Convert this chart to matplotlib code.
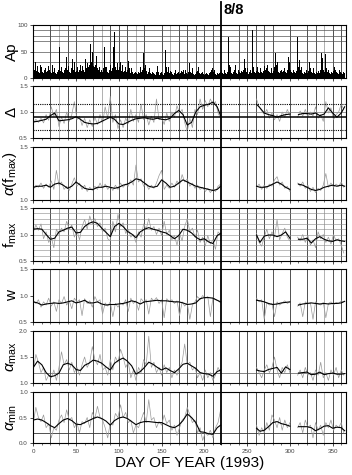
import numpy as np
import matplotlib
matplotlib.use("Agg")
import matplotlib.pyplot as plt
from matplotlib.lines import Line2D

plt.rcParams["font.family"] = ["Liberation Sans", "DejaVu Sans"]
plt.rcParams["mathtext.fontset"] = "custom"
plt.rcParams["mathtext.rm"] = "Liberation Sans"
plt.rcParams["mathtext.it"] = "Liberation Sans:italic"

########## DATA ##########
## daily Ap, day 0..364
ap = [
    12, 15, 32, 30, 14, 22, 12, 10, 25, 14, 20, 12, 10, 15, 18, 12, 10, 14, 22, 15,
    12, 10, 25, 14, 12, 18, 10, 8, 12, 15, 20, 58, 14, 20, 12, 10, 15, 12, 18, 40,
    15, 22, 12, 10, 14, 18, 36, 15, 30, 12, 10, 14, 20, 12, 15, 24, 14, 12, 22, 15,
    12, 35, 18, 28, 15, 20, 25, 65, 30, 50, 22, 38, 20, 25, 42, 18, 15, 20, 14, 12,
    15, 12, 18, 58, 20, 14, 20, 12, 10, 15, 25, 14, 12, 18, 58, 87, 20, 15, 28, 12,
    15, 20, 30, 14, 25, 12, 10, 14, 20, 12, 15, 33, 18, 12, 10, 18, 12, 8, 10, 12,
    15, 10, 8, 12, 10, 20, 12, 10, 15, 48, 18, 25, 14, 10, 8, 12, 18, 10, 8, 12,
    15, 10, 8, 6, 12, 22, 12, 8, 6, 10, 12, 8, 6, 10, 18, 53, 20, 12, 20, 10,
    14, 27, 12, 8, 6, 10, 15, 8, 6, 10, 12, 8, 10, 14, 12, 26, 15, 8, 15, 10,
    8, 12, 18, 28, 12, 10, 18, 8, 6, 10, 8, 12, 14, 20, 10, 8, 6, 10, 12, 8,
    6, 8, 10, 15, 8, 6, 10, 12, 15, 22, 18, 12, 15, 8, 6, 10, 12, 8, 10, 12,
    15, 10, 8, 12, 15, 10, 8, 12, 77, 25, 12, 20, 10, 8, 12, 15, 24, 14, 10, 8,
    15, 12, 10, 14, 20, 12, 15, 35, 18, 12, 18, 10, 8, 12, 15, 10, 90, 20, 25, 12,
    10, 14, 20, 12, 10, 15, 18, 12, 10, 14, 22, 15, 12, 18, 25, 14, 12, 10, 18, 12,
    10, 14, 20, 47, 25, 30, 14, 12, 10, 14, 15, 12, 10, 14, 18, 12, 10, 15, 39, 20,
    30, 15, 12, 10, 15, 12, 8, 10, 14, 77, 20, 34, 15, 12, 20, 10, 8, 12, 10, 15,
    12, 10, 14, 31, 18, 12, 10, 14, 18, 10, 8, 12, 10, 14, 12, 10, 15, 47, 37, 15,
    12, 20, 45, 18, 12, 15, 10, 8, 12, 12, 10, 14, 21, 15, 12, 18, 10, 8, 15, 12,
    10, 8, 8, 12, 10,
]

## days of the raw (gray) samples: three data segments
raw_days = [np.arange(0, 220, 3), np.arange(261, 301, 3), np.arange(309, 364, 3)]
## days of the running mean (black) samples
sm_days = [
    list(range(0, 216, 5)) + [219],
    [261] + list(range(265, 301, 5)),
    list(range(310, 361, 5)) + [364],
]

delta_raw = [
    0.78, 0.86, 0.80, 0.88, 0.79, 0.95, 0.84, 1.10, 0.92, 1.05,
    0.72, 0.90, 0.78, 1.00, 0.82, 0.95, 1.20, 0.85, 0.92, 0.74,
    0.88, 0.70, 0.85, 0.72, 0.90, 0.76, 0.95, 0.78, 1.10, 0.88,
    1.30, 0.80, 0.95, 0.68, 0.85, 0.70, 0.88, 0.78, 1.05, 0.82,
    0.95, 0.80, 1.15, 0.85, 0.95, 0.75, 0.92, 0.80, 1.25, 0.85,
    0.90, 0.76, 0.98, 0.82, 1.00, 0.90, 1.12, 0.98, 1.05, 0.80,
    0.62, 0.88, 0.70, 1.05, 0.95, 1.25, 1.05, 1.22, 1.10, 1.25,
    1.15, 1.20, 0.98, 0.88,
    1.25, 1.10, 1.02, 0.95, 1.05, 0.88, 0.98, 0.85, 0.95, 0.82, 1.00, 0.90, 1.05, 0.92,
    0.90, 1.02, 0.92, 1.05, 0.90, 1.00, 0.92, 1.10, 0.88, 0.95, 0.82, 1.20, 0.98, 1.08,
    0.85, 0.95, 1.00, 1.15, 1.05,
]
delta_sm = [
    0.81, 0.82, 0.84, 0.86, 0.93, 0.98, 0.83, 0.84, 0.85, 0.87,
    0.91, 0.86, 0.80, 0.78, 0.77, 0.78, 0.82, 0.86, 0.90, 0.86,
    0.77, 0.76, 0.80, 0.84, 0.87, 0.88, 0.89, 0.87, 0.86, 0.88,
    0.86, 0.85, 0.88, 0.97, 1.03, 0.95, 0.75, 0.80, 1.00, 1.10,
    1.13, 1.15, 1.19, 1.10, 0.93,
    1.15, 1.08, 0.98, 0.95, 0.93, 0.90, 0.93, 0.95, 0.96,
    0.95, 0.97, 0.97, 0.96, 0.98, 0.93, 0.96, 1.08, 0.98, 0.90, 0.98, 1.10,
]

afm_raw = [
    1.10, 1.14, 1.12, 1.16, 1.11, 1.15, 1.12, 1.18, 1.10, 1.28,
    1.14, 1.17, 1.10, 1.13, 1.09, 1.15, 1.21, 1.13, 1.16, 1.10,
    1.14, 1.08, 1.12, 1.09, 1.13, 1.10, 1.16, 1.11, 1.15, 1.10,
    1.13, 1.09, 1.14, 1.10, 1.16, 1.12, 1.15, 1.13, 1.19, 1.14,
    1.33, 1.17, 1.20, 1.13, 1.15, 1.10, 1.14, 1.11, 1.16, 1.23,
    1.28, 1.10, 1.14, 1.11, 1.16, 1.12, 1.18, 1.14, 1.24, 1.17,
    1.20, 1.13, 1.16, 1.11, 1.14, 1.10, 1.12, 1.08, 1.11, 1.07,
    1.10, 1.08, 1.13, 1.15,
    1.12, 1.15, 1.10, 1.14, 1.11, 1.15, 1.13, 1.19, 1.22, 1.14, 1.17, 1.11, 1.13, 1.08,
    1.16, 1.13, 1.17, 1.11, 1.14, 1.08, 1.12, 1.07, 1.11, 1.09, 1.14, 1.25, 1.12, 1.16,
    1.12, 1.15, 1.13, 1.17, 1.12,
]
afm_sm = [
    1.12, 1.13, 1.13, 1.14, 1.12, 1.15, 1.16, 1.14, 1.11, 1.13,
    1.17, 1.14, 1.11, 1.10, 1.10, 1.12, 1.12, 1.13, 1.12, 1.11,
    1.12, 1.14, 1.15, 1.17, 1.20, 1.19, 1.16, 1.13, 1.12, 1.13,
    1.19, 1.16, 1.12, 1.13, 1.16, 1.19, 1.17, 1.15, 1.13, 1.12,
    1.11, 1.10, 1.09, 1.10, 1.13,
    1.13, 1.12, 1.12, 1.13, 1.15, 1.17, 1.15, 1.12, 1.10,
    1.15, 1.14, 1.12, 1.10, 1.09, 1.10, 1.12, 1.13, 1.14, 1.13, 1.14, 1.13,
]

fmax_raw = [
    1.05, 1.18, 1.08, 1.20, 0.92, 1.05, 0.85, 0.95, 0.75, 1.10,
    1.00, 1.12, 1.05, 1.25, 1.10, 1.18, 0.95, 1.08, 0.90, 1.15,
    1.28, 1.10, 1.35, 1.20, 1.30, 1.15, 1.22, 1.05, 1.12, 0.92,
    0.88, 1.25, 1.05, 1.38, 1.15, 1.22, 1.02, 1.10, 0.95, 1.00,
    0.85, 1.05, 0.95, 1.20, 1.10, 1.30, 1.08, 1.15, 1.00, 1.12,
    0.98, 1.25, 1.00, 1.08, 0.90, 0.98, 0.80, 1.02, 0.88, 1.15,
    1.30, 1.05, 1.12, 0.95, 1.08, 0.85, 0.95, 0.78, 0.98, 0.82,
    0.90, 0.72, 1.05, 1.00,
    1.02, 0.85, 0.78, 0.95, 1.10, 0.92, 1.05, 0.95, 1.28, 0.90, 1.02, 1.12, 0.95, 0.88,
    0.95, 0.88, 1.00, 0.85, 0.98, 0.80, 0.90, 0.75, 1.05, 0.92, 1.00, 0.85, 0.95, 0.82,
    1.00, 0.88, 0.92, 0.80, 0.65,
]
fmax_sm = [
    1.10, 1.11, 1.10, 1.00, 0.91, 0.93, 1.05, 1.08, 1.12, 1.14,
    1.03, 1.04, 1.15, 1.21, 1.24, 1.21, 1.12, 1.04, 0.96, 1.15,
    1.21, 1.15, 1.06, 1.01, 0.94, 1.05, 1.10, 1.13, 1.10, 1.08,
    1.05, 1.03, 0.98, 0.92, 0.98, 1.10, 1.08, 1.03, 0.95, 0.90,
    0.92, 0.86, 0.83, 0.98, 1.02,
    0.99, 0.85, 0.97, 0.99, 0.99, 0.96, 0.99, 1.05, 0.93,
    0.91, 0.91, 0.93, 0.84, 0.92, 0.96, 0.91, 0.88, 0.87, 0.90, 0.88, 0.87,
]

w_raw = [
    0.90, 0.85, 0.92, 0.78, 0.88, 0.82, 0.95, 0.80, 0.88, 0.70,
    0.92, 0.85, 0.98, 0.82, 0.90, 0.75, 0.95, 0.88, 0.92, 0.62,
    0.94, 0.85, 0.90, 0.78, 0.98, 0.88, 0.92, 0.65, 0.86, 0.80,
    0.88, 0.60, 0.85, 0.78, 0.86, 0.82, 0.92, 0.70, 0.95, 0.85,
    0.90, 0.72, 0.94, 0.88, 0.92, 0.65, 0.95, 0.90, 0.96, 0.85,
    0.92, 0.58, 0.94, 0.88, 0.92, 0.85, 0.90, 0.62, 0.88, 0.80,
    0.86, 0.55, 0.82, 0.88, 0.98, 0.92, 1.00, 0.95, 0.98, 0.60,
    0.96, 0.92, 0.90, 0.86,
    0.95, 0.88, 0.92, 0.55, 0.86, 0.82, 0.85, 0.60, 0.88, 0.82, 0.86, 0.90, 0.85, 0.88,
    0.80, 0.86, 0.60, 0.88, 0.84, 0.86, 0.55, 0.88, 0.84, 0.82, 0.87, 0.58, 0.85, 0.88,
    0.82, 0.87, 0.85, 0.90, 0.88,
]
w_sm = [
    0.88, 0.86, 0.82, 0.84, 0.85, 0.86, 0.85, 0.86, 0.88, 0.90,
    0.86, 0.88, 0.91, 0.86, 0.86, 0.88, 0.84, 0.82, 0.83, 0.83,
    0.84, 0.85, 0.87, 0.90, 0.88, 0.84, 0.88, 0.89, 0.90, 0.91,
    0.90, 0.90, 0.89, 0.88, 0.88, 0.86, 0.83, 0.84, 0.86, 0.94,
    0.96, 0.96, 0.95, 0.91, 0.88,
    0.91, 0.90, 0.88, 0.85, 0.83, 0.84, 0.86, 0.87, 0.88,
    0.82, 0.84, 0.85, 0.86, 0.85, 0.84, 0.85, 0.84, 0.85, 0.85, 0.86, 0.89,
]

amax_raw = [
    1.25, 1.55, 1.40, 1.20, 1.30, 1.05, 1.15, 1.10, 1.25, 1.05,
    1.30, 1.60, 1.35, 1.45, 1.25, 1.40, 1.20, 1.30, 1.15, 1.35,
    1.50, 1.30, 1.40, 1.70, 1.45, 1.35, 1.55, 1.25, 1.30, 1.15,
    1.45, 1.25, 1.50, 1.40, 1.65, 1.50, 1.30, 1.40, 1.10, 1.25,
    1.05, 1.30, 1.20, 1.45, 1.35, 1.90, 1.30, 1.40, 1.20, 1.30,
    1.15, 1.35, 1.20, 1.30, 1.10, 1.25, 1.15, 1.30, 1.40, 1.75,
    1.35, 1.40, 1.25, 1.30, 1.10, 1.20, 1.05, 1.25, 1.10, 1.20,
    1.05, 1.15, 1.30, 1.20,
    1.30, 1.20, 1.10, 1.25, 1.35, 1.20, 1.30, 1.50, 1.25, 1.10, 1.30, 1.20, 1.35, 1.20,
    1.15, 1.25, 1.10, 1.30, 1.15, 1.20, 1.05, 1.25, 1.15, 1.40, 1.10, 1.20, 1.05, 1.25,
    1.15, 1.30, 1.10, 1.25, 1.15,
]
amax_sm = [
    1.30, 1.42, 1.35, 1.20, 1.12, 1.14, 1.19, 1.35, 1.38, 1.35,
    1.26, 1.24, 1.34, 1.38, 1.44, 1.42, 1.38, 1.31, 1.25, 1.38,
    1.44, 1.48, 1.42, 1.33, 1.17, 1.22, 1.30, 1.40, 1.36, 1.30,
    1.25, 1.29, 1.24, 1.20, 1.27, 1.36, 1.38, 1.33, 1.28, 1.20,
    1.18, 1.17, 1.13, 1.22, 1.25,
    1.25, 1.23, 1.22, 1.26, 1.28, 1.30, 1.19, 1.31, 1.26,
    1.19, 1.20, 1.21, 1.16, 1.17, 1.21, 1.16, 1.18, 1.19, 1.17, 1.17, 1.18,
]

amin_raw = [
    0.40, 0.70, 0.50, 0.42, 0.55, 0.30, 0.38, 0.10, 0.30, 0.25,
    0.45, 0.55, 0.40, 0.65, 0.45, 0.50, 0.30, 0.40, 0.20, 0.42,
    0.38, 0.50, 0.30, 0.60, 0.48, 0.72, 0.50, 0.45, 0.30, 0.10,
    0.40, 0.35, 0.58, 0.50, 0.75, 0.50, 0.60, 0.40, 0.45, 0.20,
    0.35, 0.30, 0.45, 0.60, 0.40, 0.85, 0.45, 0.50, 0.30, 0.42,
    0.35, 0.55, 0.38, 0.45, 0.25, 0.35, 0.15, 0.30, 0.45, 0.50,
    0.70, 0.55, 0.40, 0.45, 0.20, 0.30, 0.05, 0.20, 0.15, 0.25,
    0.10, 0.30, 0.40, 0.65,
    0.35, 0.15, 0.30, 0.20, 0.40, 0.25, 0.55, 0.45, 0.30, 0.50, 0.25, 0.45, 0.30, 0.40,
    0.30, 0.40, 0.20, 0.45, 0.30, 0.35, 0.10, 0.40, 0.25, 0.35, 0.15, 0.40, 0.30, 0.45,
    0.25, 0.35, 0.30, 0.40, 0.20,
]
amin_sm = [
    0.45, 0.47, 0.45, 0.40, 0.34, 0.30, 0.38, 0.45, 0.48, 0.44,
    0.37, 0.36, 0.40, 0.44, 0.48, 0.51, 0.48, 0.43, 0.35, 0.44,
    0.49, 0.51, 0.48, 0.42, 0.36, 0.40, 0.42, 0.42, 0.41, 0.40,
    0.40, 0.36, 0.32, 0.30, 0.35, 0.44, 0.57, 0.50, 0.40, 0.22,
    0.21, 0.18, 0.17, 0.30, 0.35,
    0.29, 0.23, 0.25, 0.32, 0.40, 0.42, 0.38, 0.36, 0.33,
    0.32, 0.32, 0.32, 0.30, 0.24, 0.28, 0.33, 0.34, 0.29, 0.31, 0.30, 0.24,
]

## event marker days (vertical lines)
black_days = [20, 40, 50, 70, 90, 100, 110, 130, 150, 170, 180, 190, 200, 210,
              240, 250, 260, 270, 280, 300, 320, 330, 350, 360]
gray_days = [30, 80, 120, 160, 340]
storm_day = 220  # 8/8
###### END DATA ######


def segments(day_groups, values):
    ## join the segments with NaN so the line breaks over the data gaps
    xs, ys, i = [], [], 0
    for d in day_groups:
        d = list(d)
        xs += d + [np.nan]
        ys += list(values[i:i + len(d)]) + [np.nan]
        i += len(d)
    return xs, ys


W_PX, H_PX = 352, 475
fig = plt.figure(figsize=(W_PX / 100, H_PX / 100), dpi=100)
left, width = 33.3 / W_PX, 312.2 / W_PX

panels = [
    ("Ap", (25, 78), (0, 100), [0, 50, 100], ["0", "50", "100"], None, None),
    ("Δ", (86, 138), (0.5, 1.5), [0.5, 1.0, 1.5], ["0.5", "1.0", "1.5"], delta_raw, delta_sm),
    (r"$\alpha(\mathrm{f}_{\mathrm{max}})$", (147, 200), (1.0, 1.5), [1.0, 1.5], ["1.0", "1.5"], afm_raw, afm_sm),
    (r"$\mathrm{f}_{\mathrm{max}}$", (208, 261), (0.5, 1.5), [0.5, 1.0, 1.5], ["0.5", "1.0", "1.5"], fmax_raw, fmax_sm),
    ("w", (269, 322), (0.5, 1.5), [0.5, 1.0, 1.5], ["0.5", "1.0", "1.5"], w_raw, w_sm),
    (r"$\alpha_{\mathrm{max}}$", (331, 383), (1.0, 2.0), [1.0, 1.5, 2.0], ["1.0", "1.5", "2.0"], amax_raw, amax_sm),
    (r"$\alpha_{\mathrm{min}}$", (392, 443), (0.0, 1.0), [0.0, 0.5, 1.0], ["0.0", "0.5", "1.0"], amin_raw, amin_sm),
]

for k, (label, (top, bot), ylim, yt, ytl, raw, sm) in enumerate(panels):
    ax = fig.add_axes([left, 1 - bot / H_PX, width, (bot - top) / H_PX])
    ax.set_xlim(0, 365)
    ax.set_ylim(*ylim)

    for d in gray_days:
        ax.axvline(d, color="#b0b0b0", lw=0.7, zorder=1)
    for d in black_days:
        ax.axvline(d, color="#333333", lw=0.6, zorder=1)

    if k == 0:
        for h in [30, 50, 70, 80, 90]:
            ax.axhline(h, color="#555555", lw=0.5, zorder=1)
        ax.bar(np.arange(len(ap)), ap, width=1.0, color="black", zorder=3)
    else:
        if k == 1:
            ax.axhline(1.0, color="#777777", lw=0.5, zorder=1)
            ax.axhline(0.91, color="black", lw=1.1, zorder=4)
            ax.axhline(1.16, color="black", lw=0.8, ls=(0, (1, 1)), zorder=4)
            ax.axhline(0.66, color="black", lw=0.8, ls=(0, (1, 1)), zorder=4)
        elif k == 3:
            for h in np.arange(0.6, 1.45, 0.1):
                ax.axhline(h, color="#888888", lw=0.4, zorder=1)
        elif k == 5:
            ax.axhline(1.2, color="#555555", lw=0.5, zorder=1)
        elif k == 6:
            ax.axhline(0.2, color="#333333", lw=0.6, zorder=1)
        rx, ry = segments(raw_days, raw)
        ax.plot(rx, ry, color="#9a9a9a", lw=0.5, zorder=2)
        sx, sy = segments(sm_days, sm)
        ax.plot(sx, sy, color="black", lw=0.8, zorder=3)

    ax.set_yticks(yt)
    ax.set_yticklabels(ytl)
    ax.set_xticks(np.arange(0, 351, 50))
    ax.set_xticks(np.arange(0, 366, 10), minor=True)
    ax.tick_params(axis="both", which="major", labelsize=4.5, labelcolor="#444444",
                   length=2.5, width=0.5, pad=1.5)
    ax.tick_params(axis="x", which="minor", length=1.5, width=0.4)
    if k < len(panels) - 1:
        ax.set_xticklabels([])
    for s in ax.spines.values():
        s.set_linewidth(0.8)
    ax.set_ylabel(label, fontsize=11, labelpad=0)
    ax.yaxis.set_label_coords(-0.046, 0.5)

ax.set_xlabel("DAY OF YEAR (1993)", fontsize=11, labelpad=2)

## storm-day line across all panels
x8 = left + storm_day / 365 * width
fig.add_artist(Line2D([x8, x8], [1 - 444 / H_PX, 1 - 2 / H_PX], transform=fig.transFigure,
                      color="black", lw=1.3, zorder=10))
fig.text(x8 + 0.006, 1 - 13.5 / H_PX, "8/8", fontsize=10.5, fontweight="bold",
         ha="left", va="baseline")

fig.savefig("out.png", dpi=100)
